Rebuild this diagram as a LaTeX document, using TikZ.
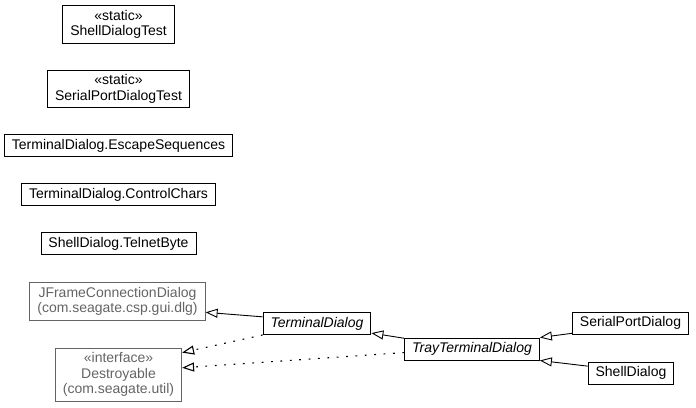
\documentclass[tikz,border=0pt]{standalone}
\usepackage{fontspec}
\setmainfont{Liberation Sans}
\usetikzlibrary{arrows.meta}
\definecolor{extgray}{RGB}{100,100,100}

\begin{document}
\begin{tikzpicture}[x=1pt,y=-1pt,
    cls/.style={draw,line width=0.9pt,inner xsep=7.5pt,inner ysep=4.5pt,align=center,
      font=\fontsize{14}{15.5}\selectfont},
    extcls/.style={cls,draw=extgray,text=extgray},
    inherit/.style={-{Triangle[open,length=12pt,width=9pt]},line width=0.9pt},
    realize/.style={inherit,dash pattern=on 1.8pt off 7.6pt,line width=1.1pt}]
  \useasboundingbox (0,0) rectangle (696,407);
  % nested and test classes
  \node[cls] (sdtest) at (118.5,24.5) {«static»\\ShellDialogTest};
  \node[cls] (spdtest) at (118.5,89) {«static»\\SerialPortDialogTest};
  \node[cls] (escseq) at (118.5,145.5) {TerminalDialog.EscapeSequences};
  \node[cls] (ctrlch) at (118.5,194.5) {TerminalDialog.ControlChars};
  \node[cls] (telnet) at (118.5,243.5) {ShellDialog.TelnetByte};
  % external types
  \node[extcls] (jframe) at (117.5,301.5) {JFrameConnectionDialog\\(com.seagate.csp.gui.dlg)};
  \node[extcls] (destroy) at (118.5,374.5) {«interface»\\Destroyable\\(com.seagate.util)};
  % dialog hierarchy
  \node[cls,font=\fontsize{14}{15.5}\selectfont\itshape] (termdlg) at (317,323.5) {TerminalDialog};
  \node[cls,font=\fontsize{14}{15.5}\selectfont\itshape] (traydlg) at (472,349) {TrayTerminalDialog};
  \node[cls] (serdlg) at (630.5,323) {SerialPortDialog};
  \node[cls] (shelldlg) at (631,373) {ShellDialog};
  % generalisations
  \draw[inherit] (termdlg.173) -- (jframe.-7);
  \draw[inherit] (traydlg.171) -- (termdlg.-10);
  \draw[inherit] (serdlg.190) -- (traydlg.north east);
  \draw[inherit] (shelldlg.171) -- (traydlg.south east);
  % realizations
  \draw[realize] (termdlg.south west) -- (destroy.19);
  \draw[realize] (traydlg.183) -- (destroy.6);
\end{tikzpicture}
\end{document}
